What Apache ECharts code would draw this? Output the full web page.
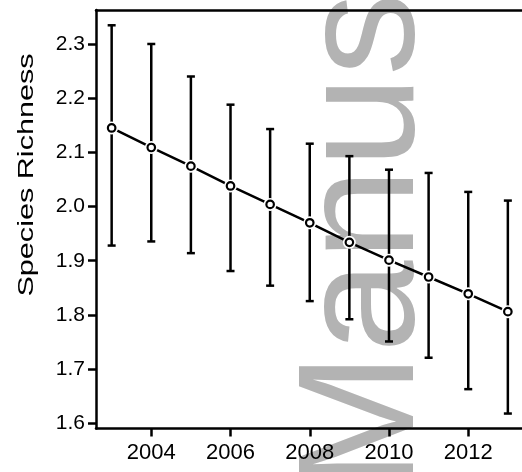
<!DOCTYPE html>
<html>
<head>
<meta charset="utf-8">
<script src="https://cdn.jsdelivr.net/npm/echarts@6/dist/echarts.min.js"></script>
<style>
html,body{margin:0;padding:0;background:#fff;}
#chart{width:522px;height:472px;}
</style>
</head>
<body>
<div id="chart"></div>
<script>
var years = [2003, 2004, 2005, 2006, 2007, 2008, 2009, 2010, 2011, 2012, 2013];
var meanRichness = [2.145, 2.109, 2.0745, 2.038, 2.004, 1.970, 1.934, 1.901, 1.870, 1.839, 1.806];
var upperBound = [2.3345, 2.300, 2.240, 2.188, 2.143, 2.116, 2.093, 2.068, 2.062, 2.027, 2.011];
var lowerBound = [1.928, 1.9356, 1.914, 1.881, 1.854, 1.8255, 1.792, 1.751, 1.721, 1.663, 1.618];
var xTickValues = [2004, 2006, 2008, 2010, 2012];
var yTickValues = [1.6, 1.7, 1.8, 1.9, 2.0, 2.1, 2.2, 2.3];

var FONT = '"Liberation Sans", Arial, Helvetica, sans-serif';
var chart = echarts.init(document.getElementById('chart'), null, {renderer: 'canvas'});

var lineData = years.map(function (y, i) { return [y, meanRichness[i]]; });
var errData = years.map(function (y, i) { return [y, lowerBound[i], upperBound[i]]; });

var option = {
  backgroundColor: '#ffffff',
  animation: false,
  grid: {left: 96, top: 10, right: 0, bottom: 43.5, containLabel: false},
  graphic: [
    {
      type: 'text', z: 1, x: 367, y: 491, rotation: Math.PI / 2, silent: true,
      style: {text: 'Manuscript', font: '166px ' + FONT, fill: '#b3b3b3', align: 'left', verticalAlign: 'middle'}
    },
    {
      type: 'text', z: 10, x: 27, y: 175, rotation: Math.PI / 2, scaleX: 1.36, silent: true,
      style: {text: 'Species Richness', font: '22.5px ' + FONT, fill: '#000', align: 'center', verticalAlign: 'middle'}
    }
  ],
  xAxis: [
    {
      type: 'value', min: 2002.605, max: 2013.357, z: 5,
      axisLine: {show: true, onZero: false, lineStyle: {color: '#000', width: 2.5}},
      axisTick: {show: true, length: 8, customValues: xTickValues, lineStyle: {color: '#000', width: 2.5}},
      axisLabel: {show: true, customValues: xTickValues, margin: 13, color: '#000', fontSize: 22, fontFamily: FONT,
        formatter: function (v) { return String(Math.round(v)); }},
      splitLine: {show: false}
    },
    {
      type: 'value', position: 'top', min: 2002.605, max: 2013.357, z: 5,
      axisLine: {show: true, onZero: false, lineStyle: {color: '#000', width: 2.5}},
      axisTick: {show: false}, axisLabel: {show: false}, splitLine: {show: false}
    }
  ],
  yAxis: {
    type: 'value', min: 1.5904, max: 2.3627, z: 5,
    axisLine: {show: true, onZero: false, lineStyle: {color: '#000', width: 2.5}},
    axisTick: {show: true, length: 8, customValues: yTickValues, lineStyle: {color: '#000', width: 2.5}},
    axisLabel: {show: true, customValues: yTickValues, margin: 11, color: '#000', fontSize: 21, fontFamily: FONT,
      formatter: function (v) { return v.toFixed(1); }},
    splitLine: {show: false}
  },
  series: [
    {
      type: 'custom', z: 6, xAxisIndex: 0,
      data: errData,
      renderItem: function (params, api) {
        var x = api.value(0);
        var lo = api.coord([x, api.value(1)]);
        var hi = api.coord([x, api.value(2)]);
        var hw = 4;
        var st = {stroke: '#000', lineWidth: 2.5, fill: null};
        return {
          type: 'group',
          children: [
            {type: 'line', shape: {x1: lo[0], y1: lo[1], x2: hi[0], y2: hi[1]}, style: st},
            {type: 'line', shape: {x1: lo[0] - hw, y1: lo[1], x2: lo[0] + hw, y2: lo[1]}, style: st},
            {type: 'line', shape: {x1: hi[0] - hw, y1: hi[1], x2: hi[0] + hw, y2: hi[1]}, style: st}
          ]
        };
      }
    },
    {
      type: 'line', z: 7, xAxisIndex: 0,
      data: lineData,
      showSymbol: false, symbol: 'none',
      lineStyle: {color: '#000', width: 2.5}
    },
    {
      type: 'scatter', z: 8, xAxisIndex: 0,
      data: lineData,
      symbol: 'circle', symbolSize: 13,
      itemStyle: {color: '#fff', opacity: 1}
    },
    {
      type: 'scatter', z: 9, xAxisIndex: 0,
      data: lineData,
      symbol: 'circle', symbolSize: 7.5,
      itemStyle: {color: '#fff', borderColor: '#000', borderWidth: 2.2, opacity: 1}
    }
  ]
};
chart.setOption(option);
</script>
</body>
</html>
